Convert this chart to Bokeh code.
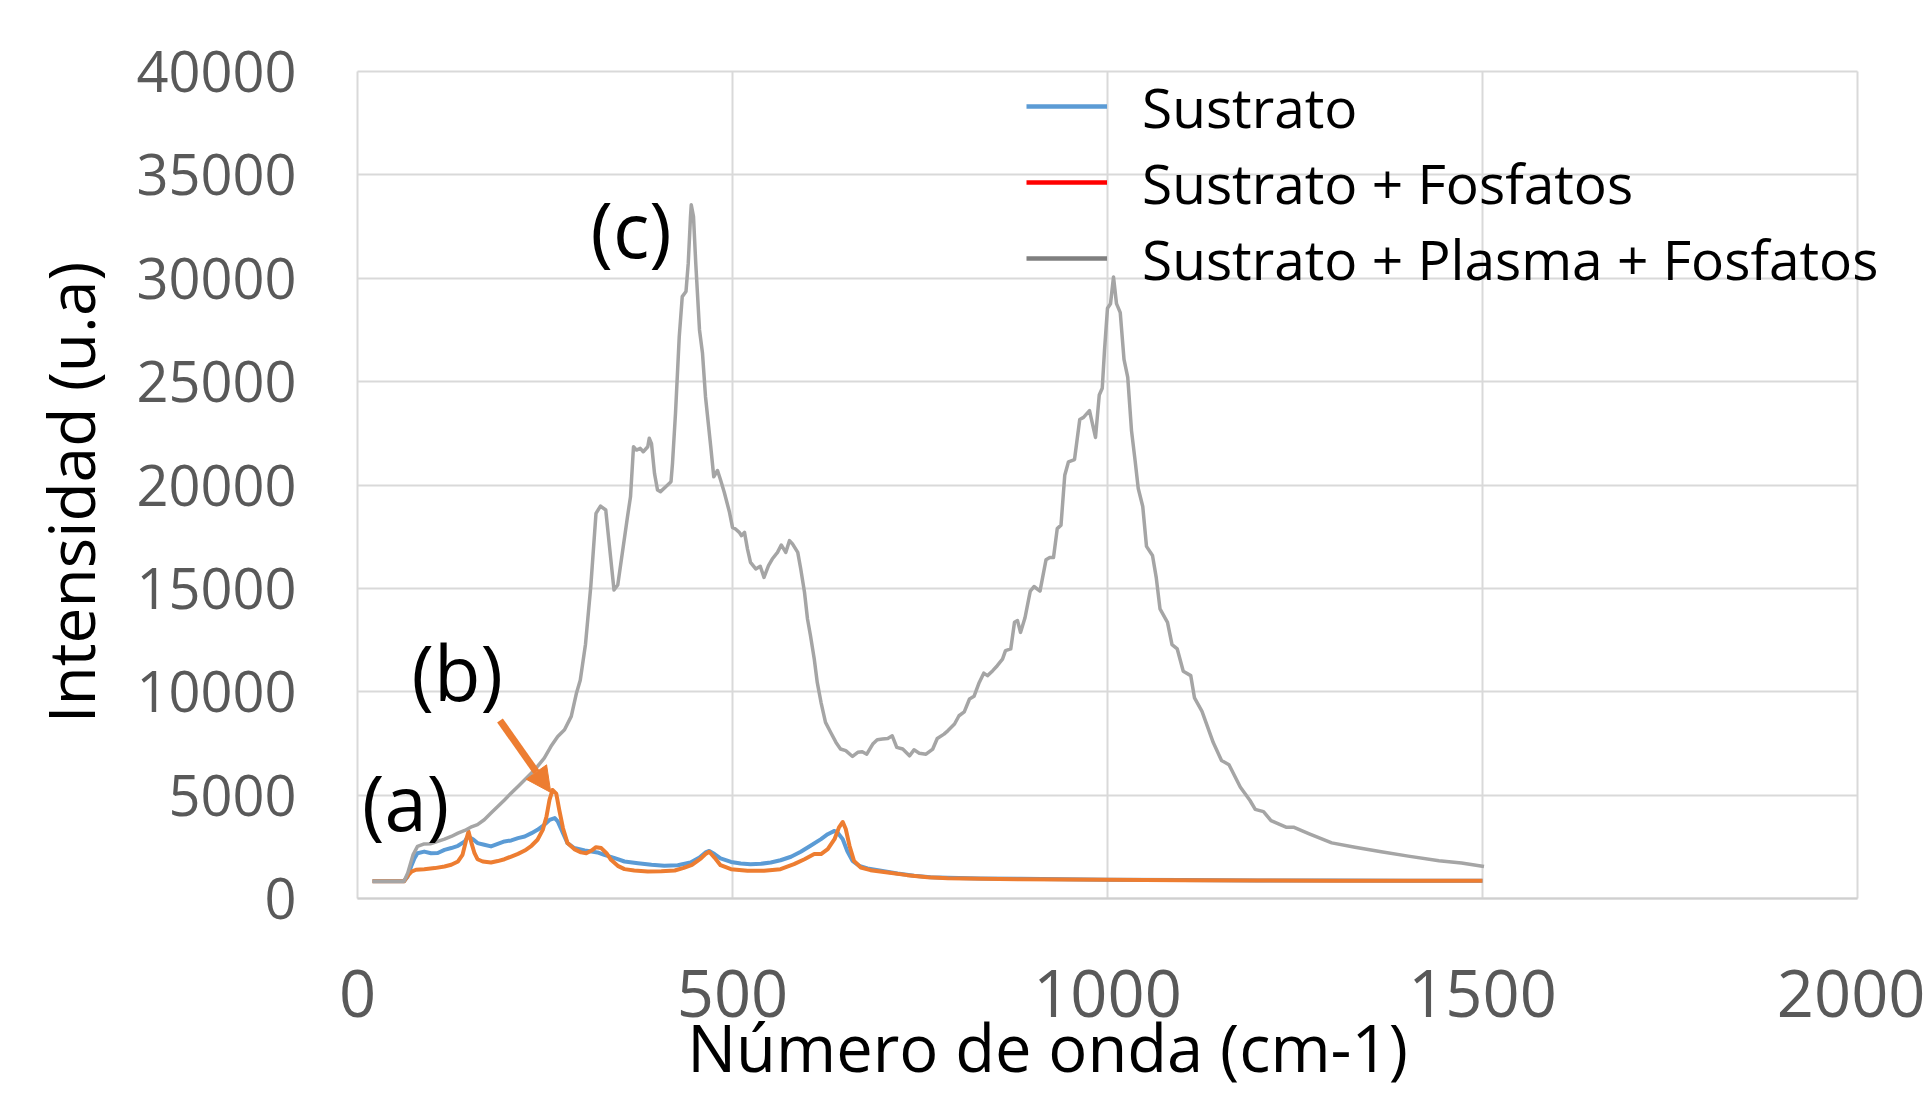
import math
from bokeh.plotting import figure
from bokeh.models import (Range1d, Legend, LegendItem, Label, Arrow, NormalHead,
                          FixedTicker)
from bokeh.embed import file_html
from bokeh.resources import INLINE

# ---------------- data ----------------
x_ticks = [0, 500, 1000, 1500, 2000]
x_tick_labels = ["0", "500", "1000", "1500", "2000"]
y_ticks = [0, 5000, 10000, 15000, 20000, 25000, 30000, 35000, 40000]
y_tick_labels = ["0", "5000", "10000", "15000", "20000", "25000", "30000", "35000", "40000"]

series_names = ["Sustrato", "Sustrato + Fosfatos", "Sustrato + Plasma + Fosfatos"]

x_sustrato = [20, 62, 67, 72, 76, 80, 89, 98, 107, 116, 125, 134, 143, 147, 154, 160, 169,
              178, 187, 196, 205, 214, 223, 232, 240, 249, 256, 263, 267, 274, 280, 289,
              303, 312, 320, 329, 343, 356, 374, 392, 409, 427, 444, 456, 464, 469, 476,
              484, 498, 511, 524, 538, 551, 564, 578, 591, 604, 618, 627, 636, 640, 647,
              653, 660, 669, 680, 698, 720, 742, 764, 787, 831, 884, 1000, 1100, 1200,
              1300, 1400, 1500]
y_sustrato = [830, 830, 1065, 1600, 1950, 2190, 2270, 2190, 2200, 2350, 2440, 2550, 2760,
              3000, 2870, 2680, 2600, 2520, 2640, 2760, 2810, 2920, 3000, 3160, 3320, 3560,
              3800, 3890, 3730, 3160, 2680, 2440, 2320, 2270, 2230, 2110, 1950, 1790, 1710,
              1630, 1580, 1610, 1740, 1980, 2230, 2300, 2150, 1940, 1770, 1690, 1660, 1680,
              1740, 1850, 2020, 2260, 2550, 2870, 3110, 3270, 3190, 2870, 2300, 1820, 1580,
              1450, 1340, 1210, 1100, 1030, 1000, 970, 950, 910, 890, 875, 865, 860, 858]

x_fosfatos = [20, 62, 67, 72, 78, 89, 103, 116, 125, 134, 140, 145, 148, 152, 156, 160, 167,
              178, 187, 196, 205, 214, 223, 232, 240, 247, 252, 256, 260, 265, 269, 274,
              280, 289, 298, 305, 312, 318, 325, 332, 338, 347, 356, 369, 387, 405, 423,
              435, 446, 458, 464, 469, 476, 484, 498, 520, 542, 564, 582, 596, 609, 618,
              627, 636, 642, 647, 651, 656, 662, 671, 684, 707, 733, 760, 787, 831, 884,
              1000, 1100, 1200, 1300, 1400, 1500]
y_fosfatos = [830, 830, 1100, 1300, 1390, 1420, 1470, 1550, 1630, 1790, 2110, 2840, 3240,
              2680, 2190, 1900, 1790, 1740, 1810, 1900, 2030, 2160, 2320, 2550, 2840, 3320,
              3970, 4770, 5250, 5070, 4290, 3400, 2680, 2390, 2230, 2190, 2320, 2480, 2440,
              2190, 1870, 1580, 1420, 1355, 1310, 1320, 1355, 1480, 1630, 1940, 2150, 2260,
              1980, 1610, 1420, 1340, 1340, 1420, 1660, 1900, 2150, 2150, 2390, 2870, 3440,
              3700, 3360, 2550, 1820, 1500, 1370, 1260, 1130, 1030, 985, 950, 935, 905, 885,
              872, 862, 858, 855]

x_plasma = [20, 62, 67, 74, 80, 89, 98, 107, 116, 125, 134, 143, 151, 160, 169, 178, 187,
            196, 205, 214, 223, 232, 240, 249, 258, 267, 276, 285, 292, 297, 304, 311, 318,
            324, 331, 336, 342, 347, 353, 360, 364, 368, 372, 377, 381, 387, 389, 392, 396,
            400, 404, 411, 418, 420, 424, 429, 433, 438, 441, 444, 445, 448, 451, 456, 460,
            464, 471, 475, 480, 484, 489, 496, 500, 504, 509, 512, 516, 520, 524, 531, 537,
            542, 548, 553, 560, 565, 571, 576, 580, 587, 591, 596, 600, 604, 609, 613, 618,
            624, 631, 638, 644, 651, 660, 667, 673, 679, 687, 693, 700, 707, 713, 719, 727,
            736, 742, 749, 758, 767, 773, 782, 787, 796, 802, 809, 816, 822, 829, 835, 840,
            847, 853, 860, 864, 871, 876, 880, 884, 890, 897, 902, 910, 918, 923, 928, 933,
            938, 943, 948, 956, 963, 968, 976, 984, 989, 993, 996, 1000, 1004, 1008, 1012,
            1017, 1022, 1027, 1032, 1037, 1041, 1047, 1052, 1060, 1065, 1070, 1080, 1086,
            1093, 1101, 1111, 1116, 1126, 1141, 1152, 1162, 1177, 1190, 1197, 1208, 1218,
            1238, 1248, 1269, 1299, 1330, 1365, 1401, 1442, 1472, 1502]
y_plasma = [830, 830, 1230, 2110, 2520, 2640, 2650, 2760, 2870, 3000, 3160, 3290, 3450, 3570,
            3810, 4130, 4450, 4770, 5100, 5420, 5740, 6070, 6390, 6790, 7360, 7840, 8160, 8810,
            9940, 10560, 12300, 15080, 18630, 18980, 18790, 17020, 14920, 15160, 16690, 18470,
            19430, 21850, 21690, 21770, 21610, 21850, 22260, 22000, 20560, 19760, 19680, 19920,
            20160, 21050, 23470, 27180, 29110, 29360, 30730, 32980, 33550, 32980, 30730, 27500,
            26370, 24270, 21850, 20400, 20700, 20250, 19650, 18680, 17950, 17870, 17710, 17550,
            17710, 16900, 16260, 15940, 16070, 15530, 16100, 16420, 16740, 17100, 16740, 17310,
            17150, 16740, 15940, 14810, 13520, 12710, 11580, 10450, 9490, 8520, 8030, 7550,
            7230, 7150, 6870, 7070, 7100, 6980, 7470, 7680, 7710, 7740, 7870, 7310, 7230, 6900,
            7190, 7030, 6980, 7230, 7740, 7950, 8110, 8440, 8840, 9030, 9650, 9780, 10450,
            10900, 10780, 11020, 11260, 11580, 11990, 12070, 13360, 13440, 12870, 13580, 14870,
            15090, 14870, 16380, 16490, 16490, 17890, 18060, 20470, 21120, 21230, 23170, 23270,
            23600, 22300, 24350, 24680, 26510, 28550, 28770, 30060, 28770, 28340, 26080, 25210,
            22630, 21120, 19830, 18960, 17030, 16590, 15520, 14010, 13360, 12280, 12070, 10990,
            10780, 9700, 9050, 7540, 6680, 6470, 5390, 4740, 4310, 4200, 3770, 3450, 3450, 3130,
            2690, 2480, 2260, 2050, 1830, 1720, 1550]

annotation_texts = ["(a)", "(b)", "(c)"]
x_title = "Número de onda (cm-1)"
y_title = "Intensidad (u.a)"

# ---------------- styles / positions ----------------
BLUE, ORANGE, GRAY = "#5B9BD5", "#ED7D31", "#A5A5A5"
LEGEND_COLORS = ["#5B9BD5", "#FF0000", "#7F7F7F"]
GRID = "#D9D9D9"
FONT = "Open Sans"

W, H = 1925, 1093                 # canvas size
FL, FR, FT, FB = 357, 1857, 71, 898  # pixel box of the chart area
X0, X1, Y0, Y1 = 0, 2000, 0, 40000   # axis limits
kx = (X1 - X0) / (FR - FL)
ky = (Y1 - Y0) / (FB - FT)

ann_pos = [(6.0, 4680), (72.0, 10970), (310.7, 32420)]
arrow_pos = dict(x_start=190, y_start=8613, x_end=257.7, y_end=5129)
x_title_pos = ((1047 - FL) * kx, -(1046 - FB) * ky)
y_title_pos = ((69.7 - FL) * kx, (FB - 492) * ky)

p = figure(width=W, height=H, output_backend="svg", toolbar_location=None,
           x_range=Range1d(X0 - FL * kx, X1 + (W - FR) * kx),
           y_range=Range1d(Y0 - (H - FB) * ky, Y1 + FT * ky),
           min_border_left=0, min_border_right=0, min_border_top=0, min_border_bottom=0)
p.background_fill_color = "white"
p.border_fill_color = "white"
p.outline_line_color = None

p.xaxis.ticker = FixedTicker(ticks=x_ticks)
p.yaxis.ticker = FixedTicker(ticks=y_ticks)
p.xaxis.major_label_overrides = {t: l for t, l in zip(x_ticks, x_tick_labels)}
p.yaxis.major_label_overrides = {t: l for t, l in zip(y_ticks, y_tick_labels)}
p.xaxis.fixed_location = Y0
p.yaxis.fixed_location = X0
p.xaxis.bounds = (X0, X1)
p.yaxis.bounds = (Y0, Y1)

for ax in (p.xaxis, p.yaxis):
    ax.major_tick_line_color = None
    ax.minor_tick_line_color = None
    ax.major_tick_out = 0
    ax.major_tick_in = 0
    ax.major_label_text_font = FONT
    ax.major_label_text_color = "#595959"
p.yaxis.axis_line_color = None
p.xaxis.axis_line_color = "#CFCFCF"
p.xaxis.axis_line_width = 2
p.yaxis.major_label_text_font_size = "56px"
p.xaxis.major_label_text_font_size = "65px"
p.yaxis.major_label_standoff = 61
p.xaxis.major_label_standoff = 71

xg, yg = p.xgrid[0], p.ygrid[0]
for g in (xg, yg):
    g.grid_line_color = GRID
    g.grid_line_width = 2
xg.bounds = (X0, X1)
yg.bounds = (Y0, Y1)
if "cross_bounds" in xg.properties():
    xg.cross_bounds = (Y0, Y1)
    yg.cross_bounds = (X0, X1)

p.line(x_sustrato, y_sustrato, line_color=BLUE, line_width=4, line_join="round")
p.line(x_fosfatos, y_fosfatos, line_color=ORANGE, line_width=4, line_join="round")
p.line(x_plasma, y_plasma, line_color=GRAY, line_width=3.5, line_join="round")

# legend (its own swatches, as in the original picture)
nan = float("nan")
leg_renderers = [p.line([nan], [nan], line_color=c, line_width=4.5) for c in LEGEND_COLORS]
legend = Legend(items=[LegendItem(label=n, renderers=[r]) for n, r in zip(series_names, leg_renderers)],
                location=(1026, 797), orientation="vertical",
                background_fill_alpha=0, border_line_alpha=0,
                label_text_font=FONT, label_text_font_size="55px", label_text_color="black",
                glyph_width=81, glyph_height=76, label_height=76, label_standoff=35,
                spacing=0, padding=0, margin=0)
p.add_layout(legend)

for t, (ax_, ay_) in zip(annotation_texts, ann_pos):
    p.add_layout(Label(x=ax_, y=ay_, text=t, text_font=FONT, text_font_size="76px",
                       text_color="black", text_baseline="middle", text_align="left"))

p.add_layout(Arrow(end=NormalHead(size=25, fill_color=ORANGE, line_color=ORANGE, line_width=1),
                   line_color=ORANGE, line_width=7, **arrow_pos))

# axis titles
p.add_layout(Label(x=x_title_pos[0], y=x_title_pos[1], text=x_title, text_font=FONT,
                   text_font_size="65px", text_color="black", text_align="center",
                   text_baseline="middle"))
p.add_layout(Label(x=y_title_pos[0], y=y_title_pos[1], text=y_title, text_font=FONT,
                   text_font_size="64px", text_color="black", text_align="center",
                   text_baseline="middle", angle=math.pi / 2))

open("out.html", "w").write(file_html(p, INLINE))
